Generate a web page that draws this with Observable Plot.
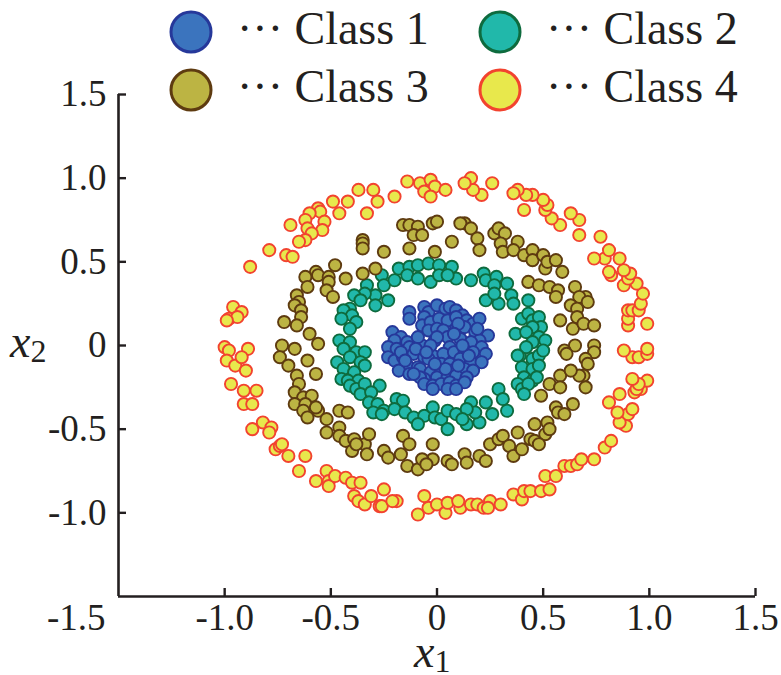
<!DOCTYPE html>
<html>
<head>
<meta charset="utf-8">
<script src="https://cdn.jsdelivr.net/npm/d3@7"></script>
<script src="https://cdn.jsdelivr.net/npm/@observablehq/plot@0.6"></script>
<style>
  html, body { margin: 0; padding: 0; background: #fff; }
  #wrap { position: relative; width: 781px; height: 675px; overflow: hidden; font-family: "Liberation Serif", "Times New Roman", serif; color: #231f20; }
  .item { position: absolute; display: flex; align-items: center; height: 44px; font-size: 46px; line-height: 44px; white-space: nowrap; }
  .item svg { display: block; }
  .item span { margin-left: 24px; position: relative; top: -3px; }
  .atitle { position: absolute; font-size: 46px; line-height: 22px; white-space: nowrap; }
  .atitle i { font-style: italic; }
  .atitle sub { font-size: 32px; vertical-align: -5px; font-style: normal; line-height: 0; }
</style>
</head>
<body>
<div id="wrap"></div>
<script>
// Axis ticks and their printed labels
const xTicks = [-1.5, -1.0, -0.5, 0, 0.5, 1.0, 1.5];
const xTickLabels = ["-1.5", "-1.0", "-0.5", "0", "0.5", "1.0", "1.5"];
const yTicks = [-1.0, -0.5, 0, 0.5, 1.0, 1.5];
const yTickLabels = ["-1.0", "-0.5", "0", "0.5", "1.0", "1.5"];

// Class names and their colours (fill / outline)
const classNames = ["Class 1", "Class 2", "Class 3", "Class 4"];
const classFill = ["#3b74be", "#21b8aa", "#bcb443", "#e8e84c"];
const classStroke = ["#26389a", "#0e6b3e", "#5e3b10", "#f2432f"];

// Samples, [x1, x2]
const class1 = [
  [-0.13,0.20],[-0.13,0.16],[-0.06,0.23],[-0.04,0.20],[0.00,0.24],[0.04,0.22],[0.06,0.23],[0.09,0.21],[0.12,0.18],[-0.06,0.17],
  [-0.07,0.12],[-0.03,0.14],[0.01,0.16],[0.05,0.15],[0.09,0.17],[0.14,0.15],[0.17,0.13],[0.20,0.16],[-0.04,0.09],[0.00,0.10],
  [0.03,0.09],[0.09,0.10],[0.13,0.11],[0.18,0.08],[0.24,0.06],[0.20,0.03],[-0.21,0.08],[-0.17,0.05],[-0.14,0.02],[-0.20,0.03],
  [-0.23,-0.01],[-0.19,-0.02],[-0.13,-0.01],[-0.07,0.00],[-0.01,0.03],[0.05,0.05],[0.11,0.04],[0.16,0.02],[0.21,-0.01],[0.06,-0.01],
  [-0.23,-0.07],[-0.20,-0.09],[-0.16,-0.07],[-0.11,-0.05],[-0.06,-0.07],[-0.02,-0.06],[0.03,-0.05],[0.08,-0.04],[0.13,-0.03],[0.17,-0.04],
  [0.23,-0.05],[-0.14,-0.12],[-0.09,-0.13],[-0.04,-0.08],[0.02,-0.11],[0.06,-0.11],[0.11,-0.08],[0.16,-0.10],[0.21,-0.10],[-0.18,-0.15],
  [-0.13,-0.17],[-0.08,-0.14],[-0.03,-0.16],[0.02,-0.16],[0.07,-0.15],[0.13,-0.14],[0.17,-0.15],[-0.06,-0.20],[0.00,-0.19],[0.05,-0.19],
  [0.09,-0.18],[0.14,-0.19],[-0.08,-0.19],[-0.06,-0.23],[-0.02,-0.24],[0.02,-0.23],[0.06,-0.22],[0.09,-0.24],[0.13,-0.22],[-0.02,-0.26],
  [0.05,-0.26],[0.09,-0.26],[-0.09,0.05],[0.10,0.13],[-0.17,-0.04],[0.15,-0.06],[0.04,-0.14],[-0.11,-0.17],[-0.01,-0.11],
  [-0.10,-0.02],[0.00,0.05],[0.08,0.07],[-0.03,0.00],[0.12,0.00],[0.19,0.10],[-0.15,-0.09],[0.10,-0.12],[-0.05,-0.04]
];
const class2 = [
  [-0.26,0.42],[-0.25,0.36],[-0.20,0.39],[-0.18,0.46],[-0.13,0.47],[-0.14,0.42],[-0.09,0.40],[-0.09,0.48],[-0.04,0.49],[-0.03,0.38],
  [0.01,0.48],[0.01,0.42],[0.07,0.47],[0.09,0.40],[0.05,0.42],[0.16,0.39],[0.22,0.43],[0.23,0.39],[0.28,0.41],[0.27,0.36],
  [0.33,0.37],[0.23,0.27],[0.29,0.25],[0.27,0.31],[0.35,0.30],[0.36,0.25],[0.43,0.27],[-0.33,0.36],[-0.29,0.30],[-0.34,0.31],
  [-0.39,0.30],[-0.36,0.27],[-0.29,0.24],[-0.23,0.27],[-0.41,0.22],[-0.44,0.21],[-0.40,0.18],[-0.38,0.14],[-0.41,0.10],[-0.45,0.16],
  [-0.46,0.03],[-0.41,0.02],[-0.44,-0.02],[-0.38,-0.04],[-0.34,-0.04],[-0.47,-0.10],[-0.41,-0.07],[-0.36,-0.10],[-0.44,-0.14],[-0.39,-0.16],
  [-0.34,-0.12],[-0.45,-0.20],[-0.42,-0.21],[-0.37,-0.21],[-0.41,-0.24],[-0.38,-0.26],[-0.34,-0.23],[-0.36,-0.29],[-0.27,-0.24],[-0.31,-0.28],
  [-0.32,-0.34],[-0.28,-0.35],[-0.30,-0.40],[-0.25,-0.39],[-0.26,-0.41],[-0.19,-0.32],[-0.16,-0.33],[-0.20,-0.38],[-0.15,-0.40],[-0.11,-0.43],
  [-0.06,-0.42],[-0.09,-0.47],[-0.02,-0.37],[-0.01,-0.43],[0.02,-0.44],[0.05,-0.50],[0.05,-0.39],[0.09,-0.41],[0.14,-0.47],[0.16,-0.34],
  [0.20,-0.46],[0.23,-0.34],[0.26,-0.41],[0.18,-0.40],[0.14,-0.38],[0.12,-0.44],[0.29,-0.26],[0.31,-0.32],[0.33,-0.39],[0.40,0.16],
  [0.43,0.19],[0.45,0.15],[0.48,0.17],[0.49,0.11],[0.45,0.11],[0.37,0.07],[0.42,0.08],[0.48,0.05],[0.51,0.03],[0.45,0.02],
  [0.39,-0.06],[0.42,-0.01],[0.45,-0.08],[0.48,-0.06],[0.50,-0.03],[0.40,-0.13],[0.45,-0.14],[0.48,-0.12],[0.41,-0.19],[0.45,-0.21],
  [0.47,-0.19],[0.38,-0.23],[0.40,-0.26],[0.43,-0.23],[0.41,-0.29],[0.38,-0.06]
];
const class3 = [
  [-0.16,0.72],[-0.13,0.72],[-0.09,0.71],[-0.11,0.66],[-0.07,0.66],[-0.02,0.73],[0.00,0.74],[-0.35,0.63],[-0.35,0.61],[-0.35,0.58],
  [-0.25,0.56],[-0.13,0.58],[-0.01,0.56],[0.07,0.62],[0.13,0.73],[0.11,0.73],[0.16,0.70],[0.19,0.64],[0.20,0.57],[0.27,0.67],
  [0.29,0.70],[0.32,0.67],[0.30,0.61],[0.38,0.62],[0.31,0.56],[0.36,0.57],[0.41,0.54],[0.45,0.57],[0.45,0.51],[0.50,0.54],
  [0.51,0.46],[0.52,0.50],[0.56,0.51],[0.59,0.44],[0.43,0.38],[0.48,0.36],[0.53,0.35],[0.57,0.33],[0.56,0.29],[0.65,0.35],
  [0.70,0.29],[0.67,0.29],[0.71,0.26],[0.63,0.24],[0.66,0.22],[0.66,0.17],[0.58,0.15],[0.64,0.10],[0.69,0.13],[0.74,0.12],
  [0.65,0.00],[0.74,0.00],[0.60,-0.03],[0.74,-0.04],[0.70,-0.08],[0.71,-0.11],[0.69,-0.18],[0.67,-0.18],[0.70,-0.25],[0.61,-0.05],
  [0.53,-0.23],[0.58,-0.18],[0.58,-0.25],[0.63,-0.15],[0.49,-0.30],[0.56,-0.37],[0.57,-0.40],[0.60,-0.41],[0.64,-0.35],[0.46,-0.47],
  [0.51,-0.53],[0.52,-0.46],[0.53,-0.50],[0.13,-0.65],[0.14,-0.70],[0.20,-0.66],[0.23,-0.69],[0.25,-0.59],[0.29,-0.56],[0.31,-0.54],
  [0.34,-0.60],[0.36,-0.66],[0.38,-0.52],[0.40,-0.62],[0.44,-0.56],[0.46,-0.57],[0.48,-0.59],[-0.02,-0.59],[-0.02,-0.68],[0.05,-0.69],
  [0.07,-0.71],[-0.25,-0.63],[-0.23,-0.67],[-0.17,-0.65],[-0.16,-0.54],[-0.13,-0.59],[-0.14,-0.72],[-0.09,-0.74],[-0.07,-0.68],[-0.05,-0.71],
  [-0.52,-0.52],[-0.46,-0.49],[-0.46,-0.54],[-0.43,-0.57],[-0.39,-0.56],[-0.40,-0.63],[-0.34,-0.59],[-0.32,-0.53],[-0.33,-0.65],[-0.38,-0.59],
  [-0.46,-0.39],[-0.42,-0.40],[-0.66,-0.18],[-0.65,-0.23],[-0.67,-0.28],[-0.63,-0.31],[-0.59,-0.30],[-0.67,-0.35],[-0.62,-0.35],[-0.63,-0.39],
  [-0.56,-0.39],[-0.61,-0.43],[-0.52,-0.44],[-0.57,-0.37],[-0.73,0.00],[-0.74,-0.07],[-0.67,-0.02],[-0.70,-0.12],[-0.56,0.01],[-0.61,-0.09],
  [-0.57,-0.17],[-0.72,0.14],[-0.60,0.07],[-0.66,0.30],[-0.65,0.26],[-0.67,0.24],[-0.64,0.21],[-0.64,0.17],[-0.66,0.12],[-0.57,0.44],
  [-0.56,0.42],[-0.62,0.41],[-0.61,0.35],[-0.51,0.41],[-0.51,0.38],[-0.52,0.33],[-0.49,0.29],[-0.48,0.48],[-0.43,0.40],[-0.35,0.43],
  [-0.29,0.46]
];
const class4 = [
  [-0.14,0.98],[-0.08,0.97],[-0.03,0.99],[-0.01,0.95],[-0.06,0.92],[-0.03,0.89],[0.04,0.93],[-0.20,0.89],[-0.30,0.93],[-0.28,0.86],
  [-0.37,0.93],[-0.33,0.79],[-0.42,0.86],[-0.49,0.86],[-0.46,0.79],[-0.56,0.82],[-0.55,0.80],[-0.60,0.79],[-0.62,0.75],[-0.53,0.74],
  [-0.54,0.69],[-0.61,0.70],[-0.59,0.67],[-0.62,0.63],[-0.65,0.62],[-0.69,0.72],[-0.79,0.57],[-0.71,0.54],[-0.68,0.53],[-0.88,0.47],
  [-0.96,0.23],[-0.92,0.20],[-0.98,0.16],[-0.94,0.17],[-0.99,0.15],[-1.00,-0.01],[-0.98,-0.03],[-0.89,-0.02],[-0.99,-0.09],[-0.95,-0.12],
  [-0.92,-0.07],[-0.90,-0.15],[-0.97,-0.23],[-0.91,-0.27],[-0.85,-0.27],[-0.91,-0.35],[-0.87,-0.35],[-0.87,-0.50],[-0.82,-0.46],[-0.78,-0.49],
  [-0.79,-0.52],[-0.76,-0.62],[-0.74,-0.60],[-0.73,-0.59],[-0.70,-0.66],[-0.62,-0.66],[-0.65,-0.75],[-0.57,-0.81],[-0.52,-0.75],[-0.51,-0.81],
  [-0.51,-0.84],[-0.48,-0.78],[-0.43,-0.79],[-0.40,-0.82],[-0.36,-0.82],[-0.39,-0.90],[-0.37,-0.93],[-0.34,-0.95],[-0.31,-0.90],[-0.27,-0.96],
  [-0.25,-0.86],[-0.26,-0.96],[-0.19,-0.93],[-0.21,-0.93],[-0.09,-1.01],[-0.06,-0.90],[-0.04,-0.97],[0.00,-0.95],[0.04,-1.00],[0.05,-0.94],
  [0.11,-0.97],[0.10,-0.93],[0.16,-0.95],[0.19,-0.95],[0.22,-0.97],[0.25,-0.93],[0.24,-0.97],[0.30,-0.95],[0.36,-0.89],[0.40,-0.92],
  [0.41,-0.87],[0.44,-0.87],[0.49,-0.87],[0.53,-0.86],[0.51,-0.78],[0.56,-0.78],[0.60,-0.72],[0.63,-0.72],[0.66,-0.71],[0.68,-0.68],
  [0.74,-0.68],[0.79,-0.61],[0.82,-0.57],[0.88,-0.47],[0.89,-0.48],[0.86,-0.46],[0.90,-0.41],[0.92,-0.38],[0.85,-0.40],[0.81,-0.34],
  [0.86,-0.29],[0.93,-0.28],[0.96,-0.26],[0.94,-0.26],[0.99,-0.21],[0.95,-0.23],[0.92,-0.20],[0.92,-0.07],[0.95,-0.07],[0.99,-0.05],
  [0.99,-0.02],[0.88,-0.03],[0.90,0.12],[0.90,0.16],[0.99,0.13],[0.90,0.21],[0.92,0.21],[0.95,0.21],[0.96,0.25],[0.97,0.31],
  [0.94,0.37],[0.88,0.36],[0.90,0.40],[0.91,0.43],[0.88,0.45],[0.82,0.42],[0.81,0.44],[0.86,0.52],[0.79,0.52],[0.74,0.52],
  [0.81,0.57],[0.77,0.65],[0.67,0.66],[0.67,0.75],[0.63,0.79],[0.58,0.72],[0.54,0.76],[0.51,0.81],[0.52,0.84],[0.50,0.87],
  [0.41,0.81],[0.45,0.90],[0.42,0.90],[0.38,0.93],[0.36,0.91],[0.26,0.97],[0.21,0.90],[0.17,0.93],[0.16,1.00],[0.13,0.97]
];

const classes = [class1, class2, class3, class4];

// Layout of the plotting frame
const W = 781, H = 675;
const mL = 118, mR = 26, mT = 94, mB = 79;
const frameW = W - mL - mR, frameH = H - mT - mB;
const tickLen = 8;
const ink = "#231f20";
const serif = "'Liberation Serif', 'Times New Roman', serif";

const xTickTable = xTicks.map((v, i) => ({v, label: xTickLabels[i]}));
const yTickTable = yTicks.map((v, i) => ({v, label: yTickLabels[i]}));

const dotMarks = classes.map((pts, k) =>
  Plot.dot(pts, {x: d => d[0], y: d => d[1], r: 6.1, fill: classFill[k], stroke: classStroke[k], strokeWidth: 1.9})
);

const chart = Plot.plot({
  width: W, height: H,
  marginLeft: mL, marginRight: mR, marginTop: mT, marginBottom: mB,
  x: {domain: [-1.5, 1.5], axis: null},
  y: {domain: [-1.5, 1.5], axis: null},
  style: {background: "transparent", overflow: "visible"},
  marks: [
    // frame lines (left and bottom)
    Plot.ruleX([-1.5], {stroke: ink, strokeWidth: 2.6}),
    Plot.ruleY([-1.5], {stroke: ink, strokeWidth: 2.6}),
    // inward tick marks
    Plot.tickX(xTicks.filter(v => v > -1.5), {x: d => d, stroke: ink, strokeWidth: 2.4, insetTop: frameH - tickLen}),
    Plot.tickY(yTicks, {y: d => d, stroke: ink, strokeWidth: 2.4, insetRight: frameW - tickLen}),
    // tick labels
    Plot.text(xTickTable.filter(d => d.v > -1.5), {x: "v", text: "label", frameAnchor: "bottom", lineAnchor: "top", dy: 7, fontSize: 37, fontFamily: serif, fill: ink}),
    Plot.text(xTickTable.filter(d => d.v === -1.5), {x: "v", text: "label", frameAnchor: "bottom", lineAnchor: "top", textAnchor: "end", dy: 7, dx: -13, fontSize: 37, fontFamily: serif, fill: ink}),
    Plot.text(yTickTable, {y: "v", text: "label", frameAnchor: "left", textAnchor: "end", dx: -12, fontSize: 37, fontFamily: serif, fill: ink}),
    ...dotMarks
  ]
});

const wrap = document.getElementById("wrap");
wrap.appendChild(chart);
chart.style.position = "absolute";
chart.style.left = "0px";
chart.style.top = "0px";

// Legend, two rows of two entries
const legendPos = [[169, 10], [478, 10], [169, 68], [478, 68]];
classNames.forEach((name, k) => {
  const item = document.createElement("div");
  item.className = "item";
  item.style.left = legendPos[k][0] + "px";
  item.style.top = legendPos[k][1] + "px";
  item.innerHTML =
    `<svg width="44" height="44"><circle cx="22" cy="22" r="20" fill="${classFill[k]}" stroke="${classStroke[k]}" stroke-width="3"/></svg>` +
    `<span>\u00b7\u00b7\u00b7 ${name}</span>`;
  wrap.appendChild(item);
});

// Axis titles
const xt = document.createElement("div");
xt.className = "atitle";
xt.style.left = "414px";
xt.style.top = "641px";
xt.innerHTML = "<i>x</i><sub>1</sub>";
wrap.appendChild(xt);

const yt = document.createElement("div");
yt.className = "atitle";
yt.style.left = "10px";
yt.style.top = "331px";
yt.innerHTML = "<i>x</i><sub>2</sub>";
wrap.appendChild(yt);
</script>
</body>
</html>
